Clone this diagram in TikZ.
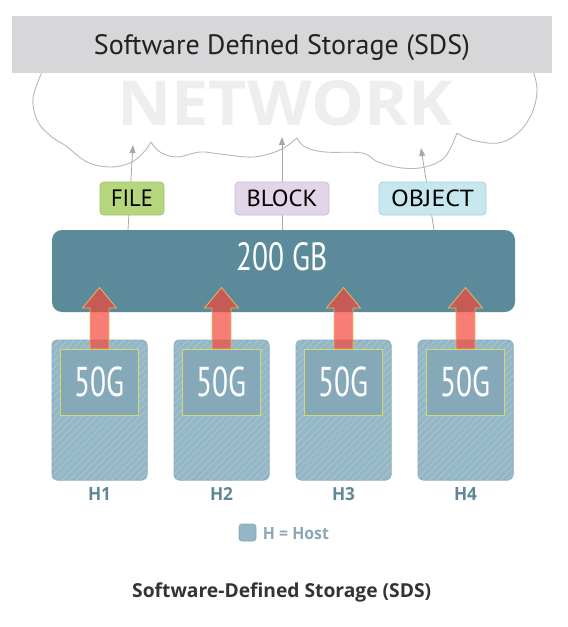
\documentclass[tikz,border=0pt]{standalone}
\usepackage{fontspec}
\setmainfont{Open Sans}
\newfontfamily\ptsans{PT Sans}
\usetikzlibrary{arrows.meta,patterns.meta}
\definecolor{bannerc}{HTML}{D7D7D9}
\definecolor{titlec}{HTML}{222222}
\definecolor{netc}{HTML}{EEEEEE}
\definecolor{cloudc}{HTML}{B8B8B8}
\definecolor{arrc}{HTML}{A8A8A8}
\definecolor{filec}{HTML}{B5D67C}
\definecolor{filed}{HTML}{A0C468}
\definecolor{blockc}{HTML}{E2D5E7}
\definecolor{blockd}{HTML}{CBBCD2}
\definecolor{objc}{HTML}{C6E7EE}
\definecolor{objd}{HTML}{A9D2DA}
\definecolor{poolc}{HTML}{5B8B9B}
\definecolor{hostc}{HTML}{94B6C5}
\definecolor{hostd}{HTML}{88ABBB}
\definecolor{stripec}{HTML}{A2C1CF}
\definecolor{innerc}{HTML}{86A9BA}
\definecolor{innerd}{HTML}{CFDC6E}
\definecolor{redc}{HTML}{F4483A}
\definecolor{yelc}{HTML}{F0C060}
\definecolor{hlblc}{HTML}{5E8898}
\definecolor{legc}{HTML}{8BA8B4}
\definecolor{capc}{HTML}{333333}
\begin{document}
\begin{tikzpicture}[x=1pt,y=-1pt,
  cloudline/.style={draw=cloudc, line width=0.9pt},
  netarrow/.style={draw=arrc, line width=0.8pt, -{Triangle[length=8pt,width=6pt]}},
  lblbox/.style={rounded corners=4pt, line width=0.8pt, minimum height=33pt, inner sep=0pt},
  hostbox/.style={rounded corners=5pt, draw=hostd, line width=1pt, fill=hostc,
    postaction={pattern={Lines[angle=45,distance=5pt,line width=1.3pt]}, pattern color=stripec},
    minimum width=95pt, minimum height=140pt, inner sep=0pt},
  innerbox/.style={draw=innerd, line width=0.9pt, fill=innerc, minimum width=78pt, minimum height=66pt, inner sep=0pt, text=white},
  uparrow/.style={fill=redc, fill opacity=0.7, draw=yelc, draw opacity=0.9, line width=0.8pt, line join=miter},
  txt/.style={inner sep=0pt}
]
\useasboundingbox (0,0) rectangle (568,627);
\fill[white] (0,0) rectangle (568,627);

% watermark
\node[txt, anchor=base west, text=netc] (net) at (117,125) {\resizebox{335pt}{45pt}{\bfseries NETWORK}};

% cloud outline
\draw[cloudline] plot[smooth,tension=0.6] coordinates {(43,70) (33,98) (38,122) (52,137) (66,146) (87,162) (110,167) (130,163) (143,153) (151,142)};
\draw[cloudline] plot[smooth,tension=0.6] coordinates {(151,142) (160,152) (177,157) (200,152) (220,154) (253,157) (280,150) (297,138)};
\draw[cloudline] plot[smooth,tension=0.6] coordinates {(297,138) (305,147) (325,152) (362,153) (378,162) (402,168) (425,167) (445,157) (457,133)};
\draw[cloudline] plot[smooth,tension=0.6] coordinates {(457,133) (472,140) (498,143) (518,133) (532,113) (537,90) (533,70)};

% banner
\node[fill=bannerc, minimum width=540pt, minimum height=57pt, inner sep=0pt] (banner) at (282,44.5) {};
\node[txt, anchor=base, text=titlec] (title) at (282,54) {\resizebox{376pt}{!}{\ptsans Software Defined Storage (SDS)}};

% storage pool
\node[fill=poolc, rounded corners=10pt, minimum width=463pt, minimum height=82pt, inner sep=0pt] (pool) at (283.5,271) {};
\node[txt, anchor=base, text=white] (pooltxt) at (282,270.7) {\resizebox{91pt}{28pt}{\ptsans 200 GB}};

% connectors to the network
\coordinate (fileBot) at (128,230);
\coordinate (fileTip) at (133,145);
\coordinate (blockBot) at (282,230);
\coordinate (blockTip) at (282,137);
\coordinate (objBot) at (434,230);
\coordinate (objTip) at (421,148);
\draw[netarrow] (fileBot) -- (fileTip);
\draw[netarrow] (blockBot) -- (blockTip);
\draw[netarrow] (objBot) -- (objTip);

% access labels
\node[lblbox, fill=filec, draw=filed, minimum width=64pt] (file) at (132,198.5) {\resizebox{42pt}{16.6pt}{\ptsans FILE}};
\node[lblbox, fill=blockc, draw=blockd, minimum width=94pt] (block) at (282,198.5) {\resizebox{71pt}{16.6pt}{\ptsans BLOCK}};
\node[lblbox, fill=objc, draw=objd, minimum width=107pt] (object) at (432.5,198.5) {\resizebox{83pt}{16.6pt}{\ptsans OBJECT}};

% hosts
\foreach \i/\x in {1/99.5,2/221.5,3/343.5,4/465.5} {
  \node[hostbox] (h\i) at (\x,410) {};
  \node[innerbox] (in\i) at (\x,382) {\resizebox{50pt}{29.7pt}{\ptsans 50G}};
  \node[txt, anchor=base, text=hlblc] (hl\i) at (\x,500) {\resizebox{23pt}{13pt}{\bfseries H\i}};
  \filldraw[uparrow] ({\x-9.5},349) -- ({\x-9.5},308) -- ({\x-17},308) -- (\x,287.5) -- ({\x+17},308) -- ({\x+9.5},308) -- ({\x+9.5},349) -- cycle;
}

% legend
\node[fill=hostc, draw=hostd, line width=0.8pt, rounded corners=3pt, minimum width=17pt, minimum height=17pt, inner sep=0pt] (legsq) at (247.5,532.5) {};
\node[txt, anchor=base west, text=legc] (legtxt) at (262.7,539) {\resizebox{66pt}{12pt}{\bfseries H = Host}};

% caption
\node[txt, anchor=base, text=capc] (caption) at (281.7,597) {\resizebox{299pt}{!}{\bfseries Software-Defined Storage (SDS)}};
\end{tikzpicture}
\end{document}
